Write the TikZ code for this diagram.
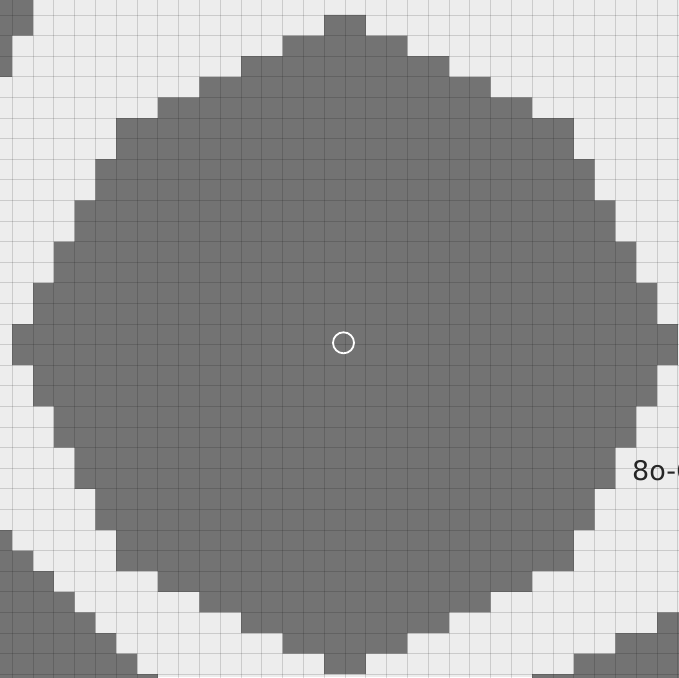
\documentclass[tikz,border=0pt]{standalone}
\usepackage{fontspec}
\newfontfamily\labelfont{DejaVu Sans}
\definecolor{lightcell}{HTML}{EDEDED}
\definecolor{darkcell}{HTML}{737373}
\begin{document}
\begin{tikzpicture}[x=1pt,y=-1pt,
  darkarea/.style={fill=darkcell},
  gridline/.style={draw=black, draw opacity=0.14, line width=0.8pt},
  marker/.style={circle, draw=white, line width=1.8pt, minimum size=21pt, inner sep=0pt},
  lbl/.style={font=\labelfont\fontsize{27}{27}\selectfont, text=black!85, inner sep=0pt, anchor=base west}]
\useasboundingbox (0,0) rectangle (679,677);
\clip (0,0) rectangle (679,677);
\fill[lightcell] (0,0) rectangle (679,677);
\begin{scope}[shift={(345,344.6)}, x=20.8pt, y=-20.6pt]
  % main pixel circle
  \fill[darkarea] (0,-16) -- (1,-16) -- (1,-15) -- (3,-15) -- (3,-14) -- (5,-14) -- (5,-13) -- (7,-13) -- (7,-12) -- (9,-12) -- (9,-11) -- (11,-11) -- (11,-9) -- (12,-9) -- (12,-7) -- (13,-7) -- (13,-5) -- (14,-5) -- (14,-3) -- (15,-3) -- (15,-1) -- (16,-1) -- (16,1) -- (15,1) -- (15,3) -- (14,3) -- (14,5) -- (13,5) -- (13,7) -- (12,7) -- (12,9) -- (11,9) -- (11,11) -- (9,11) -- (9,12) -- (7,12) -- (7,13) -- (5,13) -- (5,14) -- (3,14) -- (3,15) -- (1,15) -- (1,16) -- (-1,16) -- (-1,15) -- (-3,15) -- (-3,14) -- (-5,14) -- (-5,13) -- (-7,13) -- (-7,12) -- (-9,12) -- (-9,11) -- (-11,11) -- (-11,9) -- (-12,9) -- (-12,7) -- (-13,7) -- (-13,5) -- (-14,5) -- (-14,3) -- (-15,3) -- (-15,1) -- (-16,1) -- (-16,-1) -- (-15,-1) -- (-15,-3) -- (-14,-3) -- (-14,-5) -- (-13,-5) -- (-13,-7) -- (-12,-7) -- (-12,-9) -- (-11,-9) -- (-11,-11) -- (-9,-11) -- (-9,-12) -- (-7,-12) -- (-7,-13) -- (-5,-13) -- (-5,-14) -- (-3,-14) -- (-3,-15) -- (-1,-15) -- (-1,-16) -- cycle;
  % top-left corner piece
  \fill[darkarea] (-18,-18) -- (-15,-18) -- (-15,-15) -- (-16,-15) -- (-16,-13) -- (-18,-13) -- cycle;
  % bottom-left piece
  \fill[darkarea] (-18,9) -- (-16,9) -- (-16,10) -- (-15,10) -- (-15,11) -- (-14,11) -- (-14,12) -- (-13,12) -- (-13,13) -- (-12,13) -- (-12,14) -- (-11,14) -- (-11,15) -- (-10,15) -- (-10,16) -- (-9,16) -- (-9,18) -- (-18,18) -- cycle;
  % bottom-right piece
  \fill[darkarea] (18,13) -- (15,13) -- (15,14) -- (13,14) -- (13,15) -- (11,15) -- (11,16) -- (9,16) -- (9,18) -- (18,18) -- cycle;
  % grid
  \foreach \k in {-17,...,17} {
    \draw[gridline] (\k,-18) -- (\k,18);
    \draw[gridline] (-18,\k) -- (18,\k);
  }
\end{scope}
\node[marker] (centre) at (343.5,342.8) {};
\node[lbl] (label) at (632,480) {8o-6};
\end{tikzpicture}
\end{document}
